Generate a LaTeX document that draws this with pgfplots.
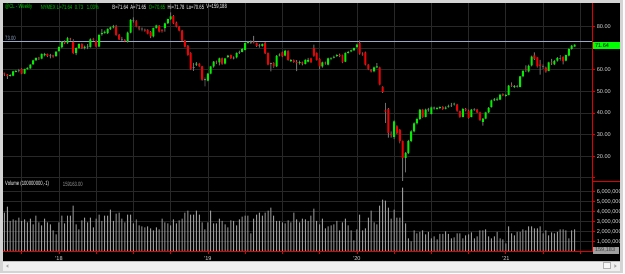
\documentclass[border=0pt]{standalone}
\usepackage{pgfplots}
\pgfplotsset{compat=1.18}
\usepackage{pgfplotstable}
\usepackage{fontspec}
\setmainfont{Liberation Sans}
\definecolor{bgwin}{RGB}{212,212,212}
\definecolor{gridc}{RGB}{40,40,40}
\definecolor{upc}{RGB}{0,240,0}
\definecolor{dnc}{RGB}{240,0,0}
\definecolor{wickc}{RGB}{110,110,110}
\definecolor{dojic}{RGB}{120,120,120}
\definecolor{volc}{RGB}{155,155,155}
\definecolor{axred}{RGB}{225,0,0}
\definecolor{lbl}{RGB}{215,215,215}
\definecolor{hdrgreen}{RGB}{0,205,0}
\definecolor{refline}{RGB}{150,170,200}
\definecolor{lastgreen}{RGB}{0,255,0}
\newcommand\chartfont{\fontsize{5.6}{6.2}\selectfont}
\newcommand\hfont{\fontsize{6.2}{7}\selectfont}
\newcommand\hdr[1]{\scalebox{0.68}[1]{#1}}
\pgfplotsset{pricebox/.style={at={(3pt,91.7pt)}, anchor=south west, scale only axis,
  width=591.5pt, height=179.3pt, xmin=-0.52, xmax=205.22, ymin=8.17, ymax=90.9}}

% i = week, o/h/l/c = open/high/low/close, v = volume (millions), d = 1 for neutral (grey) candle
\pgfplotstableread{
i o h l c v d
0 58.3 58.6 57.2 57.8 3.9 0
1 57.8 58.0 55.8 57.2 4.5 0
2 57.2 58.0 56.8 57.5 3.06 0
3 57.3 59.5 57.0 59.2 3.2 0
4 59.0 59.8 58.8 59.4 3.1 0
5 59.4 60.4 58.8 59.7 3.4 1
6 60.3 60.6 58.0 58.2 3.06 0
7 58.2 60.5 58.0 60.3 3.2 0
8 60.3 61.1 60.0 60.8 2.9 0
9 60.6 62.6 60.3 62.3 3.3 0
10 62.5 64.5 62.3 64.3 2.7 0
11 64.3 65.8 64.0 65.4 3.6 0
12 65.6 66.0 64.6 65.2 2.9 0
13 65.1 67.6 64.8 67.3 2.6 0
14 66.8 67.8 66.2 67.2 3.3 0
15 67.2 67.5 65.8 66.4 2.9 0
16 66.3 67.3 65.2 66.6 2.7 1
17 66.6 66.9 65.6 66.1 2.1 0
18 66.3 68.6 66.0 68.4 1.7 0
19 68.6 70.8 68.4 70.5 2.9 0
20 70.3 73.2 70.0 72.8 3.6 0
21 72.8 73.6 71.8 72.3 2.8 0
22 72.3 75.2 72.0 74.6 3.6 0
23 74.4 74.8 73.5 74.0 3.6 0
24 72.8 74.2 67.2 67.7 4.6 0
25 67.7 70.4 66.8 70.0 2.7 0
26 70.0 72.3 69.5 71.8 2.2 0
27 71.8 72.2 69.6 70.0 3.1 0
28 70.1 71.2 69.4 70.6 3.4 0
29 70.8 71.8 69.5 70.4 2.9 1
30 70.6 74.5 70.2 74.1 3.4 0
31 74.3 74.8 73.4 73.9 2.4 0
32 73.2 73.6 70.3 70.7 3.3 0
33 70.7 76.5 70.4 76.1 3.7 0
34 76.5 78.8 75.8 77.0 3.06 0
35 77.1 78.2 76.6 77.6 3.6 0
36 77.0 79.2 76.6 78.8 3.6 0
37 78.8 80.0 78.5 79.6 4.2 0
38 79.6 80.8 79.2 80.1 3.06 0
39 80.0 80.8 75.8 76.1 3.8 0
40 76.1 76.5 73.8 74.1 3.9 0
41 74.2 75.2 73.4 73.9 3.3 1
42 73.9 74.2 72.8 73.4 2.9 0
43 73.2 77.6 72.6 77.2 3.7 0
44 77.2 83.4 76.8 83.1 3.7 0
45 82.8 84.2 81.8 82.5 2.8 1
46 82.6 83.0 79.6 80.0 3.2 0
47 79.6 80.2 78.2 79.0 2.6 0
48 79.0 79.6 77.8 78.7 2.5 1
49 78.5 79.0 77.6 78.1 2.4 0
50 78.4 78.8 76.4 76.7 2.5 0
51 77.5 77.9 74.6 75.4 2.3 0
52 75.4 79.5 75.0 79.2 2.1 0
53 79.3 80.9 79.0 80.5 2.4 0
54 80.3 80.7 77.3 77.7 2.2 0
55 78.4 78.8 77.2 77.9 3.3 0
56 79.2 81.8 77.6 81.5 2.9 0
57 81.5 83.7 81.2 83.4 2.8 0
58 83.4 86.5 83.0 84.7 2.6 0
59 84.9 85.3 81.1 81.5 3.2 0
60 81.8 82.3 79.6 80.0 2.8 0
61 80.0 80.3 77.7 78.1 3.1 0
62 78.1 78.5 73.1 73.5 3.3 0
63 73.5 73.8 70.3 70.7 3.9 0
64 71.0 71.4 66.5 66.9 4.1 0
65 67.7 68.0 60.0 60.3 3.7 0
66 61.2 63.2 59.5 60.8 3.7 1
67 62.3 63.5 61.8 62.8 4.1 0
68 62.8 63.2 61.2 61.5 3.7 0
69 61.5 61.8 55.0 55.4 2.9 0
70 55.6 56.4 52.3 55.2 2.2 1
71 55.0 58.5 54.6 58.2 2.9 0
72 58.2 61.8 57.8 61.5 4.1 0
73 61.5 64.0 61.0 63.7 2.8 0
74 63.8 64.2 62.6 63.4 2.8 0
75 63.4 65.6 62.0 65.2 3.3 0
76 65.2 65.6 62.4 62.8 3.06 0
77 62.8 65.5 62.4 65.2 2.7 0
78 66.0 66.9 65.4 66.5 2.4 0
79 66.7 67.0 64.9 65.2 3.1 0
80 65.6 66.2 64.8 65.3 3.06 1
81 65.7 68.0 65.3 67.7 2.6 0
82 68.2 68.8 67.3 67.9 3.2 1
83 68.3 70.0 68.0 69.7 3.5 0
84 69.2 72.6 69.0 72.3 3.6 0
85 72.4 73.3 72.0 72.8 3.6 0
86 72.9 73.6 72.0 72.6 1.8 1
87 73.0 75.7 72.2 72.6 3.3 0
88 72.3 72.6 70.6 71.0 3.7 0
89 71.4 72.0 70.2 71.1 3.9 1
90 71.0 72.2 70.6 71.8 3.6 0
91 72.3 72.8 67.3 67.7 3.9 0
92 67.7 68.0 62.0 62.3 4.1 0
93 63.0 63.3 59.2 62.7 4.4 1
94 63.1 63.5 60.8 61.6 3.6 0
95 61.6 66.8 61.2 66.4 3.06 0
96 66.6 67.6 66.2 67.0 3.06 0
97 68.0 68.4 65.8 66.2 2.9 0
98 66.5 69.2 66.2 68.8 2.8 0
99 68.6 69.0 64.2 64.6 3.1 0
100 64.0 64.9 63.6 64.4 2.9 0
101 64.3 64.8 63.2 63.6 3.9 0
102 63.6 64.4 59.4 63.2 3.2 0
103 63.1 64.2 62.4 63.5 2.9 0
104 63.4 63.8 62.0 62.8 3.3 0
105 62.7 65.0 62.3 64.6 3.2 0
106 63.8 65.5 63.4 64.6 3.06 0
107 65.2 65.6 63.0 63.4 3.6 0
108 70.0 71.6 66.1 66.5 4.3 0
109 67.7 68.0 64.2 64.6 3.06 0
110 64.9 65.2 60.2 61.5 2.7 0
111 61.5 63.8 61.0 63.4 3.3 0
112 63.3 63.8 62.3 62.9 2.3 0
113 62.3 65.6 62.0 65.2 2.5 0
114 64.9 65.8 64.4 65.3 2.6 0
115 65.6 66.5 65.2 66.0 2.7 0
116 66.3 67.2 65.9 66.7 3.06 0
117 66.8 67.5 65.8 66.3 2.1 0
118 66.7 67.0 63.0 63.4 2.9 0
119 63.8 68.0 63.5 67.7 3.3 0
120 67.8 68.7 67.4 68.3 2.6 0
121 68.5 69.3 68.1 68.9 2.1 0
122 69.0 70.3 68.7 70.0 1.1 0
123 70.5 72.0 70.2 71.6 2.2 0
124 72.3 73.6 67.0 67.4 3.7 0
125 67.5 68.0 66.5 67.0 2.1 0
126 68.0 68.4 62.0 62.3 2.3 0
127 62.3 62.6 59.8 60.3 3.4 0
128 59.9 60.3 58.8 59.4 4.1 0
129 59.2 61.5 58.8 61.1 2.9 0
130 61.1 63.1 60.8 61.6 2.7 0
131 61.1 61.4 52.7 53.1 4.6 0
132 52.0 52.3 49.3 49.7 5.2 0
133 41.2 44.6 35.4 40.6 5.1 0
134 41.8 42.2 28.6 30.8 4.4 0
135 30.3 31.5 28.5 29.8 3.3 0
136 28.9 36.5 27.8 36.1 4.2 0
137 33.8 34.2 30.2 30.8 3.4 0
138 32.3 32.6 25.9 26.9 3.4 0
139 26.9 27.2 8.5 19.2 6.4 0
140 19.2 21.8 12.5 21.5 2.8 0
141 21.5 27.5 21.0 26.9 1.3 0
142 26.9 32.0 26.5 31.5 1.0 0
143 31.5 35.6 31.0 35.1 2.1 0
144 35.1 37.8 34.6 37.2 1.8 0
145 37.2 41.9 36.8 41.5 1.95 0
146 41.5 41.9 37.7 38.2 2.1 0
147 38.2 42.0 37.9 41.5 1.7 0
148 41.6 42.3 40.6 41.3 1.95 1
149 39.5 43.0 39.2 42.6 1.3 0
150 42.4 42.9 41.5 42.1 1.5 1
151 41.9 42.8 41.4 42.3 1.2 0
152 42.3 43.0 41.8 42.7 1.75 0
153 42.7 43.1 41.4 41.9 1.75 0
154 42.0 43.0 41.6 42.4 2.0 0
155 42.9 43.8 42.5 43.3 1.75 0
156 43.4 44.6 42.8 43.1 1.3 1
157 43.9 44.8 43.4 44.3 1.4 0
158 43.8 44.2 40.6 41.0 1.8 0
159 40.8 41.1 37.8 38.2 1.8 0
160 38.2 42.2 37.9 41.8 1.3 0
161 41.8 42.2 40.7 41.2 1.6 0
162 41.1 41.5 37.3 37.7 1.7 0
163 38.2 41.9 37.9 41.5 1.9 0
164 41.6 42.2 40.8 41.3 1.3 1
165 41.5 41.9 40.0 40.3 1.5 0
166 40.3 40.6 36.2 36.6 2.1 0
167 35.9 37.6 34.1 37.3 2.1 0
168 37.3 40.6 37.0 40.3 2.2 0
169 40.3 42.7 40.0 42.3 1.5 0
170 42.8 46.2 42.5 45.8 1.3 0
171 45.8 46.8 45.4 46.3 1.5 0
172 46.1 47.2 45.6 46.5 1.95 0
173 46.2 48.9 45.9 48.5 1.3 0
174 48.7 49.0 47.8 48.3 1.2 0
175 47.9 48.7 47.4 48.3 0.8 0
176 48.4 53.0 48.1 52.6 2.5 0
177 52.8 54.1 52.0 52.4 1.8 0
178 52.0 52.9 51.6 52.4 1.6 0
179 52.5 53.0 51.7 52.2 1.95 1
180 52.0 57.2 51.8 56.9 1.95 0
181 56.9 59.9 56.5 59.5 2.2 0
182 60.2 62.0 59.0 59.8 2.1 0
183 59.2 62.4 58.8 61.8 2.5 0
184 62.0 66.5 61.6 66.1 2.5 0
185 66.6 68.0 64.6 65.0 2.3 0
186 65.7 66.0 61.0 61.5 2.3 0
187 62.3 64.6 57.7 61.8 2.5 0
188 61.7 62.5 60.3 61.4 1.8 1
189 61.0 61.4 58.6 59.2 2.1 0
190 59.5 63.8 59.2 63.4 1.6 0
191 63.4 65.0 62.2 63.0 1.9 0
192 62.5 64.6 62.1 64.0 1.8 0
193 64.2 65.8 63.8 65.4 1.95 0
194 65.3 66.7 64.2 65.0 2.2 1
195 65.8 66.2 62.5 64.0 2.2 0
196 64.2 67.0 63.9 66.7 2.1 0
197 66.5 69.9 66.2 69.6 1.3 0
198 69.6 71.5 69.3 71.2 2.1 0
199 70.65 71.78 70.65 71.64 2.2 0
}\cl

\begin{document}
\begin{tikzpicture}[x=1pt,y=1pt]
% window background and black chart area
\fill[bgwin] (0,0) rectangle (625,274);
\fill[black] (3,12) rectangle (622,271);
% scrollbar
\fill[white!94!black] (3,2.5) rectangle (622,12);
\draw[gray!50, line width=0.5pt] (3,12) -- (622,12);
\fill[gray!70] (6,7) -- (8.5,8.8) -- (8.5,5.2) -- cycle;
\draw[gray!60, fill=white!97!black, line width=0.4pt] (605,4.5) rectangle (612,10.5);
\fill[gray!70] (619,7) -- (616.5,8.8) -- (616.5,5.2) -- cycle;

% price panel: grid, ticks, wicks
\begin{axis}[pricebox,
  axis line style={draw=none},
  ybar stacked, bar width=0.9pt,
  xtick={6,19,...,201}, xticklabel={}, xtick style={draw=none},
  ytick={10,20,...,80},
  yticklabels={,20.00,30.00,40.00,50.00,60.00,,80.00},
  ytick pos=right, yticklabel pos=right,
  ytick style={axred, line width=0.6pt},
  major tick length=2.5pt, tick align=outside,
  yticklabel style={font=\chartfont, text=lbl, xshift=-1.5pt},
  grid=major, major grid style={gridc, line width=0.6pt},
]
\addplot[draw=none, fill=none, forget plot] table[x=i, y=l] {\cl};
\addplot[draw=none, fill=wickc, forget plot] table[x=i, y expr={\thisrow{h}-\thisrow{l}}] {\cl};
\draw[refline, line width=0.7pt] (axis cs:-0.52,73) -- (axis cs:205.22,73);
\end{axis}

% price panel: candle bodies
\begin{axis}[pricebox, hide axis, ybar stacked, bar width=2pt]
\addplot[draw=none, fill=none, forget plot] table[x=i, y expr={min(\thisrow{o},\thisrow{c})}] {\cl};
\addplot[draw=none, fill=upc, forget plot] table[x=i, y expr={(1-\thisrow{d})*max(\thisrow{c}-\thisrow{o},0)}] {\cl};
\addplot[draw=none, fill=dnc, forget plot] table[x=i, y expr={(1-\thisrow{d})*max(\thisrow{o}-\thisrow{c},0)}] {\cl};
\addplot[draw=none, fill=dojic, forget plot] table[x=i, y expr={\thisrow{d}*abs(\thisrow{o}-\thisrow{c})}] {\cl};
\end{axis}

% volume panel
\begin{axis}[
  at={(3pt,21.7pt)}, anchor=south west, scale only axis,
  width=591.5pt, height=70pt,
  xmin=-0.52, xmax=205.22, ymin=0, ymax=7,
  axis line style={draw=none},
  ybar, bar width=1pt,
  xtick={6,19,...,201},
  xticklabels={,'18,,,,'19,,,,'20,,,,'21,,},
  xtick pos=bottom,
  xtick style={axred, line width=0.6pt},
  xticklabel style={font=\chartfont, text=lbl, yshift=1pt},
  ytick={1,2,3,4,5,6},
  yticklabels={{1,000,000},{2,000,000},{3,000,000},{4,000,000},{5,000,000},{6,000,000}},
  ytick pos=right, yticklabel pos=right,
  ytick style={axred, line width=0.6pt},
  major tick length=2.5pt, tick align=outside,
  yticklabel style={font=\chartfont, text=lbl, xshift=-1.5pt},
  grid=major, major grid style={gridc, line width=0.6pt},
]
\addplot[fill=volc, draw=none, bar shift=0pt] table[x=i, y=v] {\cl};
\end{axis}

% red axis lines
\draw[axred, line width=0.8pt] (594.5,271) -- (594.5,21.7);
\draw[axred, line width=0.8pt] (3,21.7) -- (595,21.7);
\draw[axred, line width=0.8pt] (594.5,91.7) -- (622,91.7);

% header
\begin{scope}[every node/.style={anchor=west, inner sep=0pt, font=\hfont}]
\node[text=hdrgreen] at (5,267) {\hdr{@CL - Weekly}};
\node[text=hdrgreen] at (40.7,267) {\hdr{NYMEX}};
\node[text=hdrgreen] at (57,267) {\hdr{L=71.64}};
\node[text=hdrgreen] at (75,267) {\hdr{0.73}};
\node[text=hdrgreen] at (87,267) {\hdr{1.03\%}};
\node[text=white] at (112.7,267) {\hdr{B=71.64}};
\node[text=white] at (130.7,267) {\hdr{A=71.65}};
\node[text=hdrgreen] at (149.3,267) {\hdr{O=70.65}};
\node[text=white] at (168,267) {\hdr{Hi=71.78}};
\node[text=white] at (187,267) {\hdr{Lo=70.65}};
\node[text=white] at (207,267) {\hdr{V=159,188}};
\node[text=refline] at (5,235.3) {\hdr{73.00}};
\node[text=white] at (5,89) {\hdr{Volume (100000000,-1)}};
\node[text=gray!80] at (63,89) {\hdr{159163.00}};
\end{scope}

% last price marker
\fill[lastgreen] (594.9,225) rectangle (622,232);
\node[anchor=west, inner sep=0pt, font=\chartfont, text=black] at (597,228.5) {71.64};
% last volume marker
\fill[gray!75] (595,19) rectangle (621,26.5);
\node[anchor=west, inner sep=0pt, font=\chartfont, text=black!75] at (597,22.7) {159,183};
\end{tikzpicture}
\end{document}
